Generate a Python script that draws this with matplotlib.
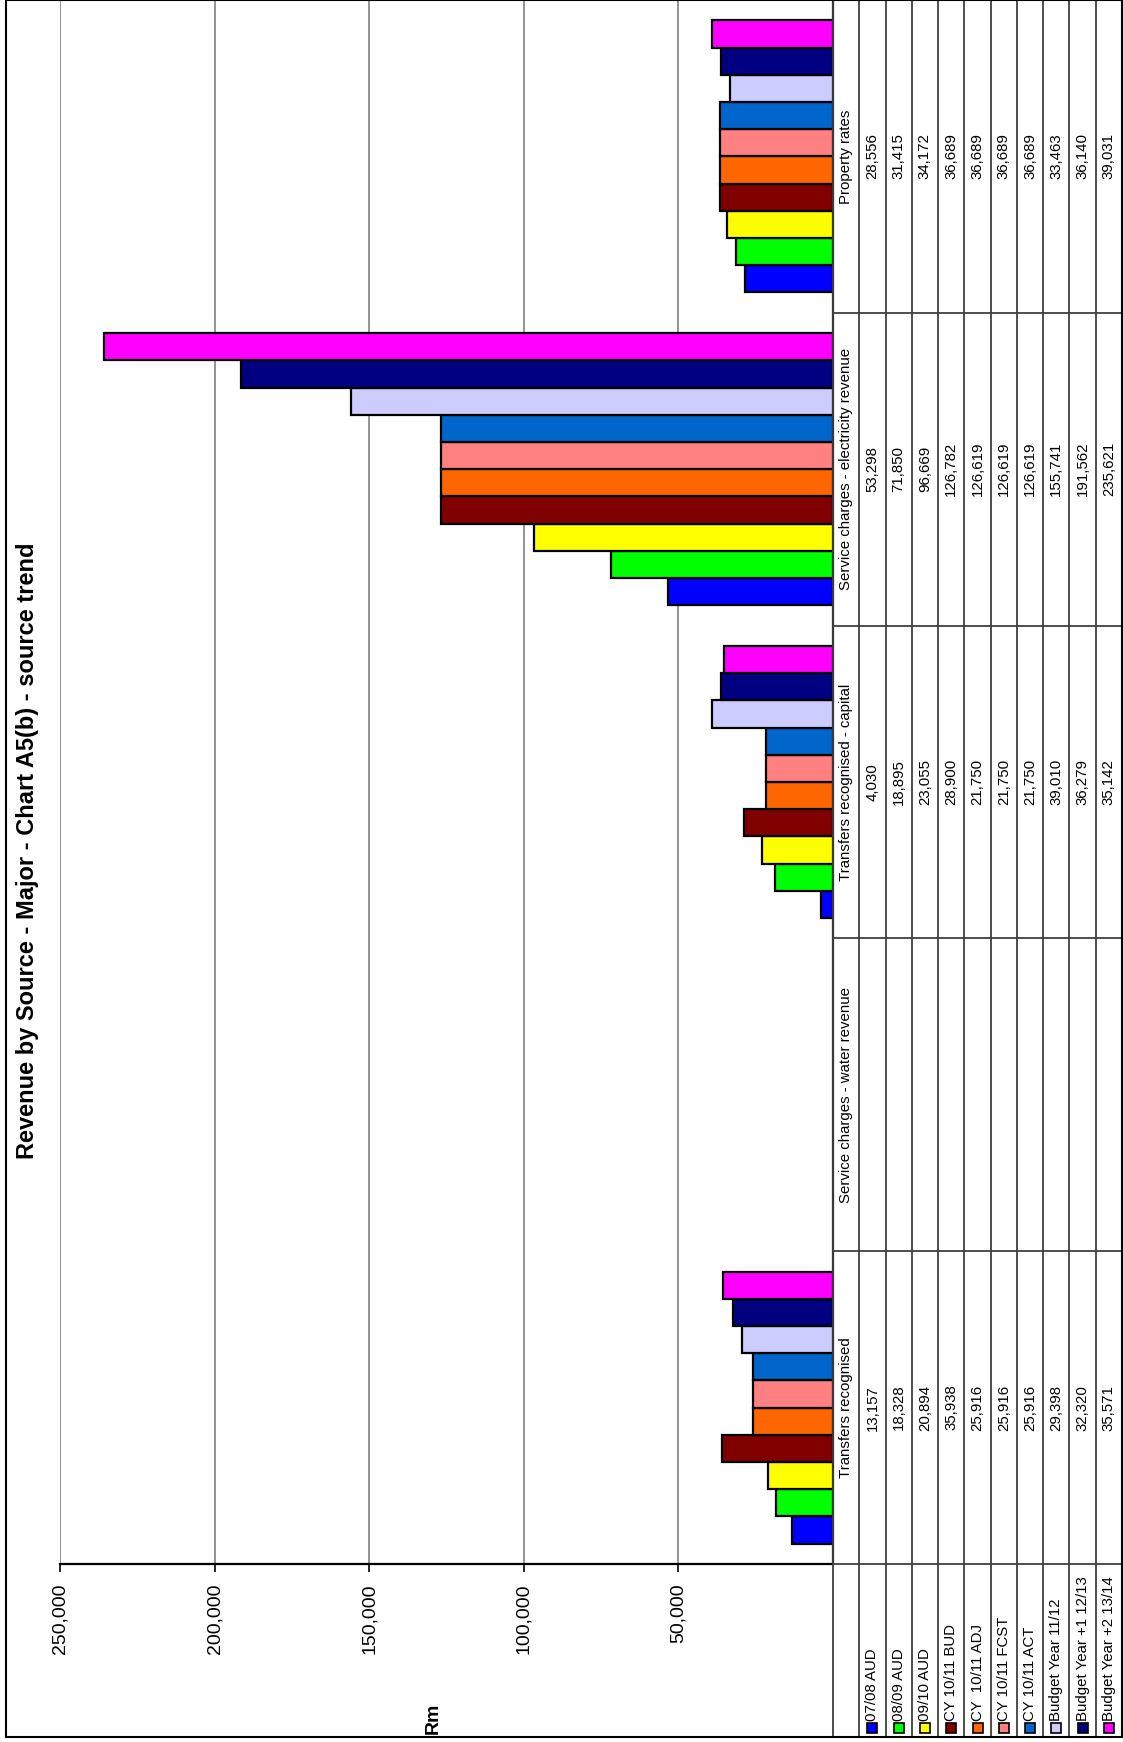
import matplotlib
matplotlib.use("Agg")
import matplotlib.pyplot as plt
from matplotlib.patches import Rectangle

plt.rcParams['font.family'] = ['Liberation Sans', 'DejaVu Sans']

# categories in chart order (bottom of page to top)
categories = ['Transfers recognised', 'Service charges - water revenue',
              'Transfers recognised - capital', 'Service charges - electricity revenue',
              'Property rates']
series = ['07/08 AUD', '08/09 AUD', '09/10 AUD', 'CY 10/11 BUD', 'CY  10/11 ADJ',
          'CY 10/11 FCST', 'CY 10/11 ACT', 'Budget Year 11/12', 'Budget Year +1 12/13',
          'Budget Year +2 13/14']
colors = ['#0000FF', '#00FF00', '#FFFF00', '#800000', '#FF6600',
          '#FF8080', '#0066CC', '#CCCCFF', '#000080', '#FF00FF']

# one list per category, one value per series (None = no data)
transfers = [13157, 18328, 20894, 35938, 25916, 25916, 25916, 29398, 32320, 35571]
water = [None] * 10
capital = [4030, 18895, 23055, 28900, 21750, 21750, 21750, 39010, 36279, 35142]
electricity = [53298, 71850, 96669, 126782, 126619, 126619, 126619, 155741, 191562, 235621]
property_rates = [28556, 31415, 34172, 36689, 36689, 36689, 36689, 33463, 36140, 39031]
values = [transfers, water, capital, electricity, property_rates]

W, H = 1123, 1742
fig = plt.figure(figsize=(W / 100, H / 100), dpi=100)


def box(x0, y0, x1, y1):
    # pixel box (top-left origin) -> figure fraction rect
    return [x0 / W, 1 - y1 / H, (x1 - x0) / W, (y1 - y0) / H]


# outer chart border
fig.patches.append(Rectangle((6 / W, 1 - 1737 / H), (1122 - 6) / W, 1737 / H,
                             transform=fig.transFigure, fill=False, ec='black', lw=1.5))

ax = fig.add_axes(box(60, 0, 833, 1564))
bw = 0.087
for j in range(len(series)):
    for i in range(len(categories)):
        v = values[i][j]
        if v is None:
            continue
        ax.barh(i + (j - 4.5) * bw, v, height=bw, color=colors[j],
                edgecolor='black', linewidth=1.6, zorder=3)

ax.set_ylim(-0.5, 4.5)
ax.set_xlim(250000, 0)
ax.set_xticks([50000, 100000, 150000, 200000, 250000])
ax.set_xticklabels(['50,000', '100,000', '150,000', '200,000', '250,000'],
                   rotation=90, fontsize=14, va='top')
ax.tick_params(axis='x', direction='out', length=6, width=1.2, pad=8)
ax.set_yticks([])
ax.grid(axis='x', color='#808080', lw=1.2, zorder=0)
for s in ['left', 'top']:
    ax.spines[s].set_visible(False)
ax.spines['right'].set_linewidth(1.6)
ax.spines['bottom'].set_linewidth(1.6)

# data table on the right
tb = fig.add_axes(box(833, 0, 1122, 1737))
tb.set_xlim(0, 11)
tb.set_ylim(-0.5 - 173 / 312.8, 4.5)
tb.axis('off')
for k in range(12):
    tb.plot([k, k], [-0.5 - 173 / 312.8, 4.5], color='#404040', lw=1.3, clip_on=False)
for yb in [-0.5, 0.5, 1.5, 2.5, 3.5]:
    tb.plot([0, 11], [yb, yb], color='#404040', lw=1.3, clip_on=False)

fs = 10.8
for i, cat in enumerate(categories):
    tb.text(0.5, i, cat, rotation=90, ha='center', va='center', fontsize=fs)
    for j in range(len(series)):
        v = values[i][j]
        if v is not None:
            tb.text(j + 1.5, i, f'{v:,}', rotation=90, ha='center', va='center', fontsize=fs)

for j, name in enumerate(series):
    y0 = -0.5 - (1728 - 1564) / 312.8
    tb.plot(j + 1.5, y0, marker='s', ms=7, mfc=colors[j], mec='black', mew=1.2,
            clip_on=False)
    tb.text(j + 1.5, -0.5 - (1721 - 1564) / 312.8, name, rotation=90,
            ha='center', va='bottom', fontsize=fs)

fig.text(28 / W, 1 - 851 / H, 'Revenue by Source - Major - Chart A5(b) - source trend',
         rotation=90, ha='center', va='center', fontsize=17, fontweight='bold')
fig.text(433 / W, 1 - 1718 / H, 'Rm', rotation=90, ha='center', va='center',
         fontsize=14, fontweight='bold')

fig.savefig('out.png', dpi=100)
